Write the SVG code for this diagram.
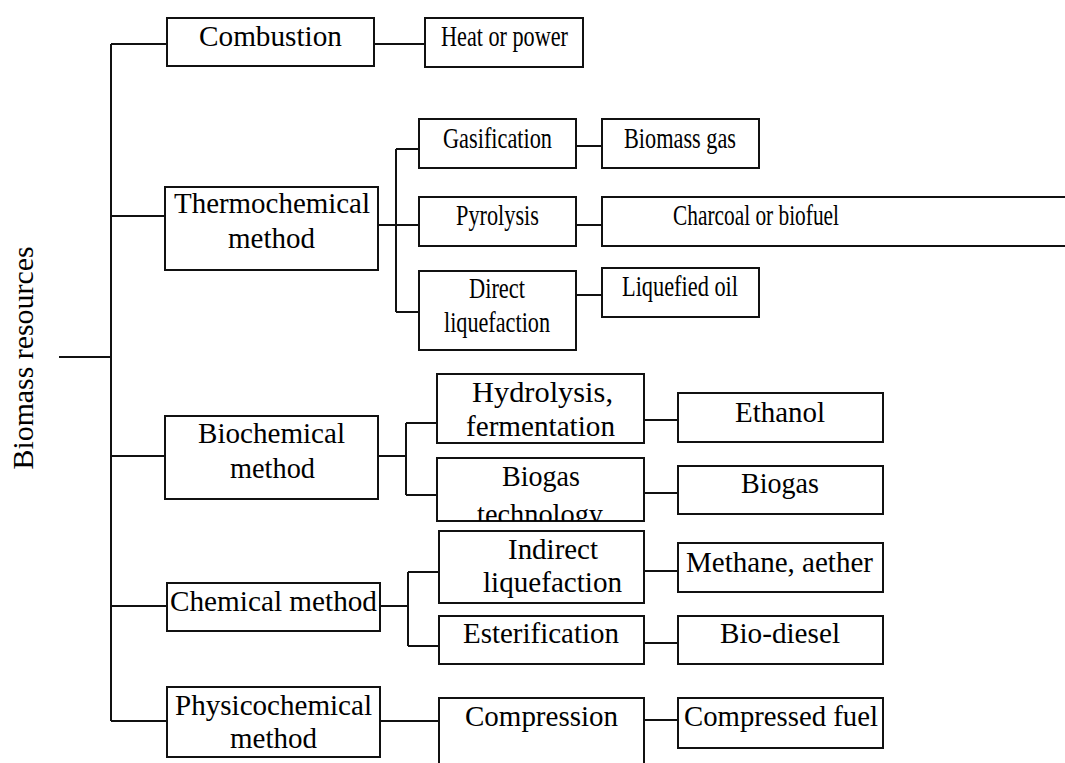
<svg xmlns="http://www.w3.org/2000/svg" width="1065" height="763" viewBox="0 0 1065 763">
<style>
.box{fill:#fff;stroke:#111;stroke-width:2}
.ln{fill:none;stroke:#111;stroke-width:2}
text{font-family:"Liberation Serif","Times New Roman",serif;font-size:29px;fill:#000}
</style>
<defs>
<clipPath id="clipBT"><rect x="437" y="458" width="207" height="63"/></clipPath>
</defs>
<rect width="1065" height="763" fill="#fff"/>
<g id="connectors">
<path class="ln" d="M59,357H111M111,44V721M111,44H167M111,216H165M111,456H165M111,606H167M111,721H167"/>
<path class="ln" d="M374,44H425"/>
<path class="ln" d="M378,225H396M396,149V312M396,149H419M396,225H419M396,312H419M576,146H602M576,225H602M576,295H602"/>
<path class="ln" d="M378,456H406M406,423V495M406,423H437M406,495H437M644,420H678M644,493H678"/>
<path class="ln" d="M380,606H408M408,572V646M408,572H439M408,646H439M644,571H678M644,643H678"/>
<path class="ln" d="M380,721H439M644,720H678"/>
</g>
<g id="root"><text transform="translate(33,358) rotate(-90)" x="-111.5" y="0" textLength="223" lengthAdjust="spacingAndGlyphs">Biomass resources</text></g>
<g id="combustion"><rect class="box" x="167" y="18" width="207" height="48"/><text x="199" y="46" textLength="143" lengthAdjust="spacingAndGlyphs">Combustion</text></g>
<g id="heat"><rect class="box" x="425" y="18" width="158" height="49"/><text x="441" y="46" textLength="127" lengthAdjust="spacingAndGlyphs">Heat or power</text></g>
<g id="thermo"><rect class="box" x="165" y="187" width="213" height="83"/><text x="174" y="213" textLength="196" lengthAdjust="spacingAndGlyphs">Thermochemical</text><text x="228" y="248" textLength="87" lengthAdjust="spacingAndGlyphs">method</text></g>
<g id="gasification"><rect class="box" x="419" y="119" width="157" height="49"/><text x="443" y="148" textLength="109" lengthAdjust="spacingAndGlyphs">Gasification</text></g>
<g id="biomassgas"><rect class="box" x="602" y="119" width="157" height="49"/><text x="624" y="148" textLength="112" lengthAdjust="spacingAndGlyphs">Biomass gas</text></g>
<g id="pyrolysis"><rect class="box" x="419" y="197" width="157" height="49"/><text x="456" y="225" textLength="83" lengthAdjust="spacingAndGlyphs">Pyrolysis</text></g>
<g id="charcoal"><rect class="box" x="602" y="197" width="470" height="49"/><text x="673" y="225" textLength="166" lengthAdjust="spacingAndGlyphs">Charcoal or biofuel</text></g>
<g id="directliq"><rect class="box" x="419" y="271" width="157" height="79"/><text x="469" y="298" textLength="56" lengthAdjust="spacingAndGlyphs">Direct</text><text x="444" y="332" textLength="106" lengthAdjust="spacingAndGlyphs">liquefaction</text></g>
<g id="liqoil"><rect class="box" x="602" y="268" width="157" height="49"/><text x="622" y="296" textLength="116" lengthAdjust="spacingAndGlyphs">Liquefied oil</text></g>
<g id="biochem"><rect class="box" x="165" y="416" width="213" height="83"/><text x="198" y="443" textLength="147" lengthAdjust="spacingAndGlyphs">Biochemical</text><text x="230" y="478" textLength="85" lengthAdjust="spacingAndGlyphs">method</text></g>
<g id="hydrolysis"><rect class="box" x="437" y="374" width="207" height="69"/><text x="472" y="402" textLength="141" lengthAdjust="spacingAndGlyphs">Hydrolysis,</text><text x="466" y="436" textLength="149" lengthAdjust="spacingAndGlyphs">fermentation</text></g>
<g id="ethanol"><rect class="box" x="678" y="393" width="205" height="49"/><text x="735" y="422" textLength="90" lengthAdjust="spacingAndGlyphs">Ethanol</text></g>
<g id="biogastech"><rect class="box" x="437" y="458" width="207" height="63"/><g clip-path="url(#clipBT)"><text x="502" y="486" textLength="78" lengthAdjust="spacingAndGlyphs">Biogas</text><text x="477" y="524" textLength="126" lengthAdjust="spacingAndGlyphs">technology</text></g></g>
<g id="biogas"><rect class="box" x="678" y="466" width="205" height="48"/><text x="741" y="493" textLength="78" lengthAdjust="spacingAndGlyphs">Biogas</text></g>
<g id="chemical"><rect class="box" x="167" y="583" width="213" height="48"/><text x="170" y="611" textLength="207" lengthAdjust="spacingAndGlyphs">Chemical method</text></g>
<g id="indirect"><rect class="box" x="439" y="531" width="205" height="72"/><text x="508" y="559" textLength="90" lengthAdjust="spacingAndGlyphs">Indirect</text><text x="483" y="592" textLength="139" lengthAdjust="spacingAndGlyphs">liquefaction</text></g>
<g id="methane"><rect class="box" x="678" y="543" width="205" height="49"/><text x="686" y="572" textLength="187" lengthAdjust="spacingAndGlyphs">Methane, aether</text></g>
<g id="esterification"><rect class="box" x="439" y="616" width="205" height="48"/><text x="463" y="643" textLength="156" lengthAdjust="spacingAndGlyphs">Esterification</text></g>
<g id="biodiesel"><rect class="box" x="678" y="616" width="205" height="48"/><text x="720" y="643" textLength="120" lengthAdjust="spacingAndGlyphs">Bio-diesel</text></g>
<g id="physico"><rect class="box" x="167" y="687" width="213" height="70"/><text x="175" y="715" textLength="197" lengthAdjust="spacingAndGlyphs">Physicochemical</text><text x="230" y="748" textLength="87" lengthAdjust="spacingAndGlyphs">method</text></g>
<g id="compression"><rect class="box" x="439" y="698" width="205" height="75"/><text x="465" y="726" textLength="153" lengthAdjust="spacingAndGlyphs">Compression</text></g>
<g id="compressedfuel"><rect class="box" x="678" y="698" width="205" height="50"/><text x="684" y="726" textLength="194" lengthAdjust="spacingAndGlyphs">Compressed fuel</text></g>
</svg>
